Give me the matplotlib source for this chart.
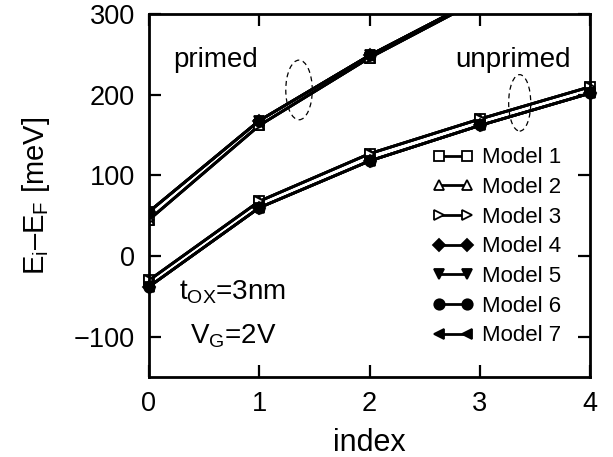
import matplotlib
matplotlib.use("Agg")
import matplotlib.pyplot as plt
from matplotlib.patches import Ellipse

plt.rcParams['font.family'] = ['Liberation Sans', 'DejaVu Sans']
plt.rcParams['mathtext.fontset'] = 'custom'
plt.rcParams['mathtext.rm'] = 'Liberation Sans'
plt.rcParams['mathtext.it'] = 'Liberation Sans'

index = [0, 1, 2, 3, 4]
models = ["Model 1", "Model 2", "Model 3", "Model 4", "Model 5", "Model 6", "Model 7"]
markers = ["s", "^", ">", "D", "v", "o", "<"]
filled = [False, False, False, True, True, True, True]

# primed valley (two visible branches: open-marker models and filled-marker models)
primed_open = [45, 162, 246, 318, 382]
primed_filled = [55, 168, 249, 320, 385]
# unprimed valley
unprimed_open = [-30, 68, 127, 170, 210]
unprimed_filled = [-38, 60, 118, 162, 202]

fig = plt.figure(figsize=(6.13, 4.57), dpi=100)
ax = fig.add_axes([0.243, 0.175, 0.72, 0.794])

for name, m, f in zip(models, markers, filled):
    pr = primed_filled if f else primed_open
    un = unprimed_filled if f else unprimed_open
    fc = 'black' if f else 'white'
    ms = 6 if m == 'D' else 7.5
    ax.plot(index, pr, color='black', lw=2, marker=m, ms=ms, mfc=fc, mec='black', mew=1.3)
    ax.plot(index, un, color='black', lw=2, marker=m, ms=ms, mfc=fc, mec='black', mew=1.3,
            label=name, clip_on=False)

ax.add_patch(Ellipse((1.36, 206), 0.24, 74, fill=False, ls=(0, (4, 3)), lw=0.9, color='black'))
ax.add_patch(Ellipse((3.36, 190), 0.2, 70, fill=False, ls=(0, (4, 3)), lw=0.9, color='black'))

ax.text(0.22, 243, "primed", fontsize=20, va='center')
ax.text(2.78, 243, "unprimed", fontsize=20, va='center')
ax.text(0.27, -45, r"t$_\mathregular{OX}$=3nm", fontsize=20, va='center')
ax.text(0.37, -100, r"V$_\mathregular{G}$=2V", fontsize=20, va='center')

ax.set_xlim(0, 4)
ax.set_ylim(-150, 300)
ax.set_xticks([0, 1, 2, 3, 4])
ax.set_yticks([-100, 0, 100, 200, 300])
ax.set_yticklabels(["\u2212100", "0", "100", "200", "300"])
ax.tick_params(direction='in', length=8.5, width=1.6, labelsize=19.5, top=True, right=True, pad=10)
for s in ax.spines.values():
    s.set_linewidth(2)

ax.set_xlabel("index", fontsize=22, labelpad=8)
ax.set_ylabel("E$_\\mathregular{i}$\u2013E$_\\mathregular{F}$ [meV]", fontsize=21, labelpad=16)

ax.legend(loc='lower right', bbox_to_anchor=(0.955, 0.06), frameon=False, fontsize=16,
          numpoints=2, handlelength=1.86, handletextpad=0.37, labelspacing=0.39,
          borderaxespad=0.0)

fig.savefig("out.png", dpi=100)
